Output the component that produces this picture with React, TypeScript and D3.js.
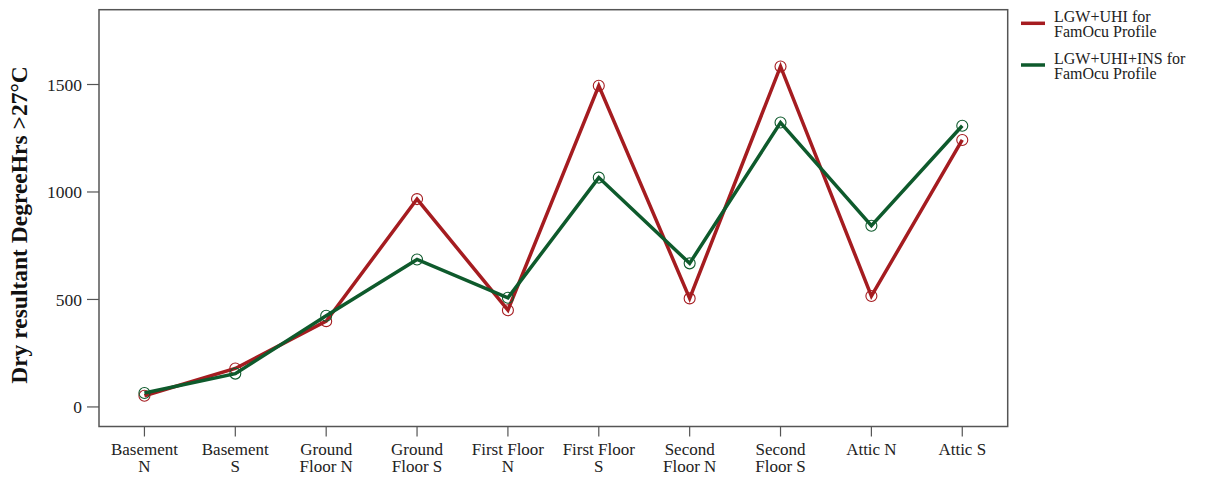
import React from "react";
import * as d3 from "d3";

const categories: string[][] = [
  ["Basement", "N"],
  ["Basement", "S"],
  ["Ground", "Floor N"],
  ["Ground", "Floor S"],
  ["First Floor", "N"],
  ["First Floor", "S"],
  ["Second", "Floor N"],
  ["Second", "Floor S"],
  ["Attic N"],
  ["Attic S"],
];
const seriesRed: number[] = [52, 179, 399, 967, 450, 1494, 505, 1584, 516, 1242];
const seriesGreen: number[] = [65, 155, 424, 686, 508, 1067, 668, 1323, 843, 1308];
const yTicks: number[] = [0, 500, 1000, 1500];
const legendRed: string[] = ["LGW+UHI for", "FamOcu Profile"];
const legendGreen: string[] = ["LGW+UHI+INS for", "FamOcu Profile"];

const RED = "#a51c20";
const GREEN = "#0e5a2c";
const AXIS = "#555";
const FONT = "'Liberation Serif', 'Times New Roman', serif";

export default function App() {
  const W = 1205, H = 477;
  const left = 99, right = 1007.7, top = 9.7, bottom = 426.5;
  const x = d3.scaleBand<number>().domain(d3.range(categories.length)).range([left, right]);
  const y = d3.scaleLinear().domain([-91, 1848]).range([bottom, top]);
  const cx = (i: number) => (x(i) as number) + x.bandwidth() / 2;
  const line = d3.line<number>().x((_, i) => cx(i)).y((d) => y(d));

  const series = [
    { vals: seriesRed, color: RED },
    { vals: seriesGreen, color: GREEN },
  ];

  return (
    <svg width={W} height={H} style={{ position: "absolute", left: 0, top: 0, background: "#fff" }}>
      <rect x={left} y={top} width={right - left} height={bottom - top} fill="none" stroke={AXIS} strokeWidth={1.5} />
      {yTicks.map((t) => (
        <g key={t}>
          <line x1={left - 12} x2={left} y1={y(t)} y2={y(t)} stroke={AXIS} strokeWidth={1.2} />
          <text x={left - 17} y={y(t)} dy="0.35em" textAnchor="end" fontFamily={FONT} fontSize={17.5} fill="#222">
            {t}
          </text>
        </g>
      ))}
      {categories.map((c, i) => (
        <g key={i}>
          <line x1={cx(i)} x2={cx(i)} y1={bottom} y2={bottom + 10} stroke={AXIS} strokeWidth={1.2} />
          {c.map((s, j) => (
            <text key={j} x={cx(i)} y={455 + j * 17} textAnchor="middle" fontFamily={FONT} fontSize={17} fill="#222">
              {s}
            </text>
          ))}
        </g>
      ))}
      <text
        transform={`translate(27, 225) rotate(-90)`}
        textAnchor="middle"
        fontFamily={FONT}
        fontSize={23.5}
        fontWeight="bold"
        fill="#111"
      >
        Dry resultant DegreeHrs &gt;27°C
      </text>
      {series.map((s, k) => (
        <g key={k}>
          <path d={line(s.vals) || ""} fill="none" stroke={s.color} strokeWidth={3.5} strokeLinejoin="miter" />
          {s.vals.map((v, i) => (
            <circle key={i} cx={cx(i)} cy={y(v)} r={5.5} fill="none" stroke={s.color} strokeWidth={1.1} />
          ))}
        </g>
      ))}
      {[
        { lab: legendRed, color: RED, ly: 23.3 },
        { lab: legendGreen, color: GREEN, ly: 65 },
      ].map((l, k) => (
        <g key={k}>
          <line x1={1021} x2={1045} y1={l.ly} y2={l.ly} stroke={l.color} strokeWidth={3.5} />
          {l.lab.map((s, j) => (
            <text key={j} x={1054} y={l.ly - 1.5 + j * 15.5} fontFamily={FONT} fontSize={16} fill="#222">
              {s}
            </text>
          ))}
        </g>
      ))}
    </svg>
  );
}
